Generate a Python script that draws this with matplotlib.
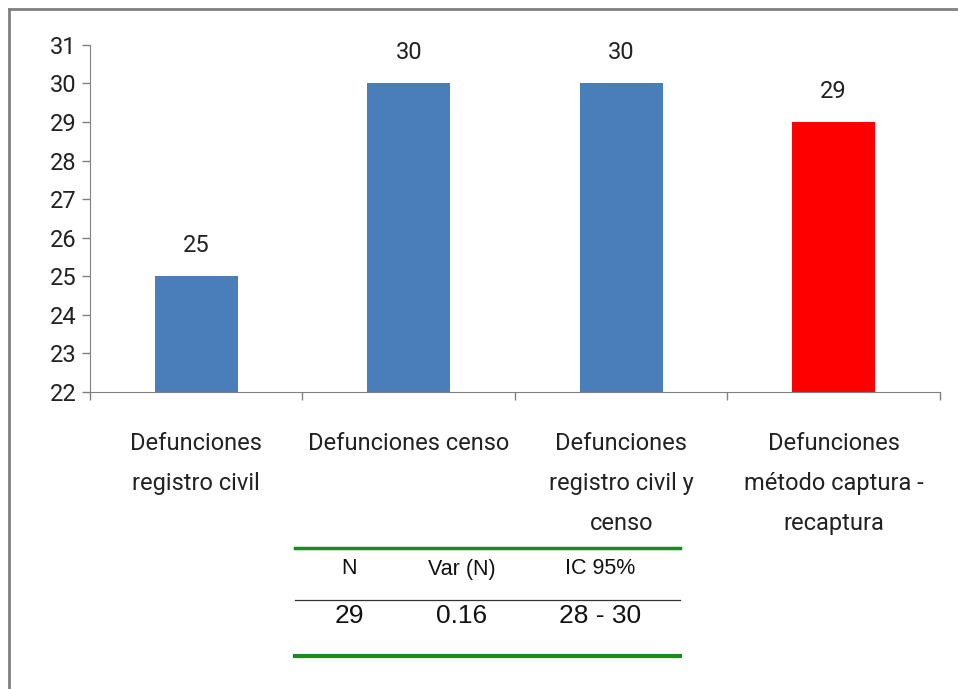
import matplotlib.pyplot as plt
from matplotlib.lines import Line2D
import numpy as np

categories = ["Defunciones\nregistro civil", "Defunciones censo",
              "Defunciones\nregistro civil y\ncenso", "Defunciones\nmétodo captura -\nrecaptura"]
values = [25, 30, 30, 29]
colors = ["#4a7ebb", "#4a7ebb", "#4a7ebb", "#ff0000"]
yticks = list(range(22, 32))

table_header = ["N", "Var (N)", "IC 95%"]
table_row = ["29", "0.16", "28 - 30"]

narrow = ["Roboto", "DejaVu Sans"]

fig = plt.figure(figsize=(9.58, 6.89), dpi=100)
ax = fig.add_axes([0.094, 0.431, 0.887, 0.504])

x = np.arange(len(values))
ax.bar(x, np.array(values) - 22, bottom=22, width=0.39, color=colors)
for xi, v in zip(x, values):
    ax.annotate(str(v), (xi, v), xytext=(0, 22), textcoords="offset points",
                ha="center", va="center", fontsize=17, family=narrow, color="#222222")

ax.set_xlim(-0.5, len(values) - 0.5)
ax.set_ylim(22, 31)
ax.set_yticks(yticks)
ax.set_yticklabels([str(t) for t in yticks], family=narrow, fontsize=17, color="#222222")
ax.set_xticks(np.arange(len(values) + 1) - 0.5)
ax.set_xticklabels([])
ax.tick_params(axis="both", direction="out", length=6, color="#808080", width=1)
for s in ["top", "right"]:
    ax.spines[s].set_visible(False)
for s in ["left", "bottom"]:
    ax.spines[s].set_color("#808080")

for xi, c in zip(x, categories):
    ax.text(xi, -0.115, c, transform=ax.get_xaxis_transform(), ha="center", va="top",
            fontsize=17, family=narrow, color="#222222", linespacing=1.95)

# table below the chart
fig.add_artist(Line2D([295 / 958, 680 / 958], [1 - 548 / 689] * 2, color="#1a8a1a", lw=2.5))
fig.add_artist(Line2D([295 / 958, 680 / 958], [1 - 600 / 689] * 2, color="#333333", lw=0.9))
fig.add_artist(Line2D([295 / 958, 680 / 958], [1 - 656 / 689] * 2, color="#1a8a1a", lw=3))
col_x = [349, 462, 600]
for cx, h, r in zip(col_x, table_header, table_row):
    fig.text(cx / 958, 1 - 569 / 689, h, ha="center", va="center", fontsize=15.5,
             family="Liberation Sans", color="#111111")
    fig.text(cx / 958, 1 - 616 / 689, r, ha="center", va="center", fontsize=19,
             family="Liberation Sans", color="#111111")

# outer frame (left and top)
fig.add_artist(Line2D([9 / 958, 9 / 958], [0, 1 - 9 / 689], color="#808080", lw=2))
fig.add_artist(Line2D([9 / 958, 1], [1 - 9 / 689] * 2, color="#808080", lw=2))

fig.savefig("out.png", dpi=100)
